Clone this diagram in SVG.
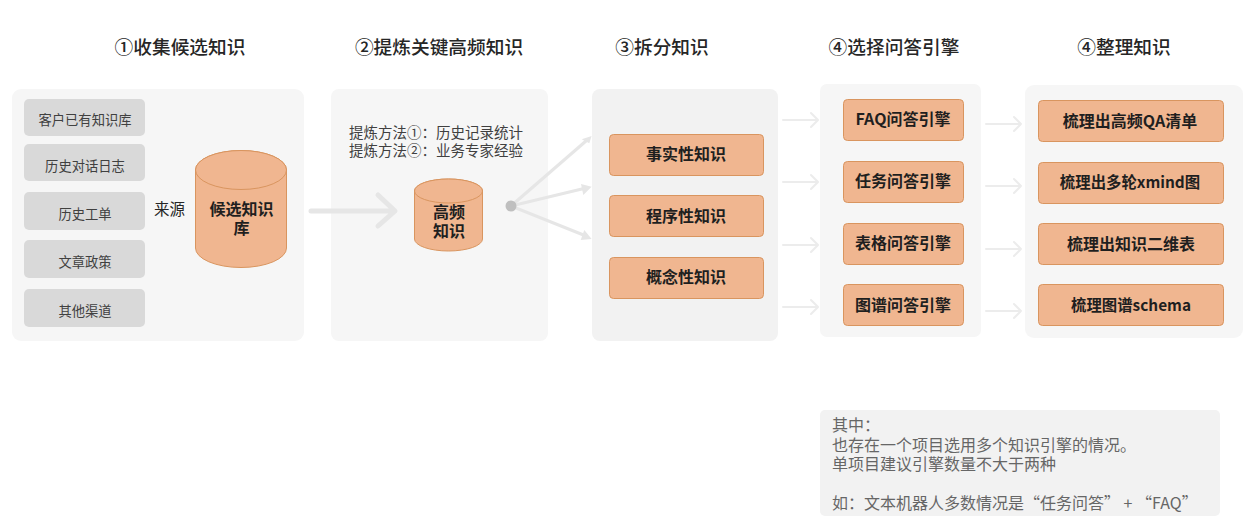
<svg xmlns="http://www.w3.org/2000/svg" width="1246" height="532" viewBox="0 0 1246 532">
<style>
text{font-family:"Noto Sans CJK SC","Noto Sans",sans-serif;text-anchor:middle}
text.m{font-family:"Liberation Sans","Noto Sans CJK SC",sans-serif}
.t{font-size:18.7px;font-weight:500;fill:#262626}
.p{fill:#f6f6f6}
.g{fill:#d9d9d9}
.gt{font-size:13.3px;fill:#404040}
.o{fill:#f0b690;stroke:#d9955f;stroke-width:1}
.ot{font-size:16px;font-weight:700;fill:#1f1f1f}
.os{font-size:15.400px}
.l{font-size:14.5px;fill:#404040;text-anchor:start}
.a{fill:none;stroke:#ececec;stroke-width:2;stroke-linecap:round;stroke-linejoin:round}
.b{fill:none;stroke:#e6e6e6;stroke-width:5;stroke-linecap:round;stroke-linejoin:round}
.c{fill:none;stroke:#e6e6e6;stroke-width:3;stroke-linecap:round}
.h{fill:#e6e6e6}
.n{font-size:16px;fill:#666;text-anchor:start}
</style>
<rect width="1246" height="532" fill="#fff"/>
<text class="t" x="180" y="54">①收集候选知识</text>
<text class="t" x="439" y="54">②提炼关键高频知识</text>
<text class="t" x="662" y="54">③拆分知识</text>
<text class="t" x="894" y="54">④选择问答引擎</text>
<text class="t" x="1124" y="54">④整理知识</text>

<g id="panel-collect">
<rect class="p" x="12" y="89" width="292" height="252" rx="9"/>
</g>
<g id="panel-refine">
<rect class="p" x="331" y="89" width="217" height="252" rx="8"/>
<text class="l m" x="349" y="138">提炼方法①：历史记录统计</text>
<text class="l m" x="349" y="156">提炼方法②：业务专家经验</text>
</g>
<g id="panel-split"><rect x="592" y="89" width="186" height="252" rx="8" fill="#f2f2f2"/></g>
<g id="panel-engine"><rect class="p" x="820" y="84" width="161" height="253" rx="7"/></g>
<g id="panel-organize"><rect class="p" x="1025" y="85" width="218" height="253" rx="9"/></g>

<g id="connectors">
<path class="b" d="M311 211H393M378 195L395 211L378 226"/>
<path class="c" d="M511 206L586 141"/>
<path class="h" d="M591.600 136L581.700 139.300L589.300 143.300Z"/>
<path class="c" d="M511 206L586 188"/>
<path class="h" d="M591.600 186.700L581 184L583.300 195Z"/>
<path class="c" d="M511 206L586 236"/>
<path class="h" d="M591.600 239L584.300 230L580.700 240Z"/>
<circle cx="511" cy="206" r="5.500" fill="#bfbfbf"/>
<path class="a" d="M783 120H817M811 113L818 120L811 127"/>
<path class="a" d="M783 182H817M811 175L818 182L811 189"/>
<path class="a" d="M783 245H817M811 238L818 245L811 252"/>
<path class="a" d="M783 307H817M811 300L818 307L811 314"/>
<path class="a" d="M986 124H1021M1014 117L1021 124L1014 131"/>
<path class="a" d="M986 186H1021M1014 179L1021 186L1014 193"/>
<path class="a" d="M986 249H1021M1014 242L1021 249L1014 256"/>
<path class="a" d="M986 311H1021M1014 304L1021 311L1014 318"/>
</g>

<g id="src-1"><rect class="g" x="24" y="99" width="121" height="37" rx="5"/><text class="gt" x="85" y="125">客户已有知识库</text></g>
<g id="src-2"><rect class="g" x="24" y="144" width="121" height="37" rx="5"/><text class="gt" x="85" y="171">历史对话日志</text></g>
<g id="src-3"><rect class="g" x="24" y="192" width="121" height="38" rx="5"/><text class="gt" x="85" y="219">历史工单</text></g>
<g id="src-4"><rect class="g" x="24" y="240" width="121" height="38" rx="5"/><text class="gt" x="85" y="267">文章政策</text></g>
<g id="src-5"><rect class="g" x="24" y="289" width="121" height="38" rx="5"/><text class="gt" x="85" y="316">其他渠道</text></g>
<g id="label-source"><text x="169.500" y="215" font-size="15.500" fill="#262626">来源</text></g>

<g id="db-candidate">
<path class="o" d="M195.500 170V248A45.500 19.500 0 0 0 286.500 248V170A45.500 19.500 0 0 0 195.500 170Z"/>
<path class="o" d="M195.500 170A45.500 19.500 0 0 0 286.500 170A45.500 19.500 0 0 0 195.500 170Z"/>
<text class="ot m" x="241.500" y="215">候选知识</text><text class="ot m" x="241.500" y="234">库</text>
</g>
<g id="db-high">
<path class="o" d="M414.500 191V239A34 12 0 0 0 482.500 239V191A34 12 0 0 0 414.500 191Z"/>
<path class="o" d="M414.500 191A34 12 0 0 0 482.500 191A34 12 0 0 0 414.500 191Z"/>
<text class="ot m" x="449" y="218">高频</text><text class="ot m" x="449" y="237">知识</text>
</g>

<g id="k-1"><rect class="o" x="609.500" y="134.500" width="154" height="41" rx="4"/><text class="ot" x="686" y="160">事实性知识</text></g>
<g id="k-2"><rect class="o" x="609.500" y="195.500" width="154" height="41" rx="4"/><text class="ot" x="686" y="222">程序性知识</text></g>
<g id="k-3"><rect class="o" x="609.500" y="257.500" width="154" height="41" rx="4"/><text class="ot" x="686" y="283">概念性知识</text></g>

<g id="e-1"><rect class="o" x="843.500" y="99.500" width="120" height="41" rx="4"/><text class="ot" x="903" y="125">FAQ问答引擎</text></g>
<g id="e-2"><rect class="o" x="843.500" y="161.500" width="120" height="41" rx="4"/><text class="ot" x="903" y="187">任务问答引擎</text></g>
<g id="e-3"><rect class="o" x="843.500" y="223.500" width="120" height="41" rx="4"/><text class="ot" x="903" y="249">表格问答引擎</text></g>
<g id="e-4"><rect class="o" x="843.500" y="284.500" width="120" height="41" rx="4"/><text class="ot" x="903" y="311">图谱问答引擎</text></g>

<g id="o-1"><rect class="o" x="1038.500" y="100.500" width="185" height="41" rx="4"/><text class="ot" x="1130" y="127">梳理出高频QA清单</text></g>
<g id="o-2"><rect class="o" x="1038.500" y="162.500" width="185" height="41" rx="4"/><text class="ot os" x="1130" y="188">梳理出多轮xmind图</text></g>
<g id="o-3"><rect class="o" x="1038.500" y="223.500" width="185" height="41" rx="4"/><text class="ot" x="1131" y="250">梳理出知识二维表</text></g>
<g id="o-4"><rect class="o" x="1038.500" y="284.500" width="185" height="41" rx="4"/><text class="ot os" x="1131" y="311">梳理图谱schema</text></g>

<g id="note">
<rect x="820" y="410" width="400" height="106" rx="5" fill="#f2f2f2"/>
<text class="n m" x="832" y="431">其中：</text>
<text class="n m" x="832" y="451">也存在一个项目选用多个知识引擎的情况。</text>
<text class="n m" x="832" y="470">单项目建议引擎数量不大于两种</text>
<text class="n" x="832" y="509">如：文本机器人多数情况是“任务问答” + “FAQ”</text>
</g>
</svg>
